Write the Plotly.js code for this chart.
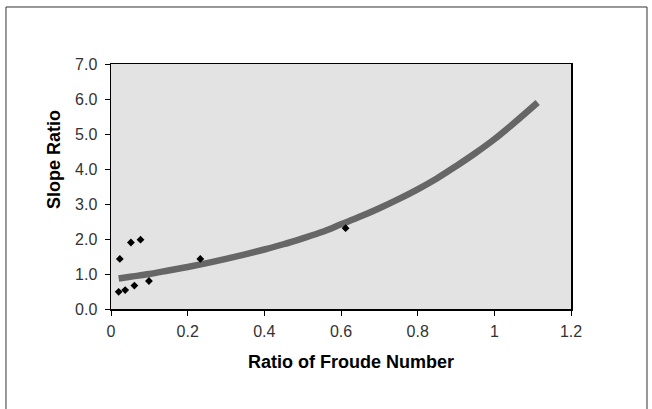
<!DOCTYPE html>
<html>
<head>
<meta charset="utf-8">
<script src="https://cdn.plot.ly/plotly-3.0.1.min.js"></script>
<style>html,body{margin:0;padding:0;background:#fff;}#chart{width:652px;height:409px;}</style>
</head>
<body>
<div id="chart"></div>
<script>
// Observed data points
var obsX = [0.023, 0.020, 0.037, 0.052, 0.061, 0.077, 0.099, 0.233, 0.612];
var obsY = [1.43, 0.49, 0.54, 1.90, 0.67, 1.98, 0.80, 1.43, 2.31];

// Fitted curve
var fitX = [0.02, 0.05, 0.1, 0.15, 0.2, 0.25, 0.3, 0.35, 0.4, 0.45, 0.5, 0.55,
            0.6, 0.65, 0.7, 0.75, 0.8, 0.85, 0.9, 0.95, 1.0, 1.05, 1.113];
var fitY = [0.87, 0.92, 1.0, 1.1, 1.2, 1.31, 1.43, 1.56, 1.70, 1.85, 2.02, 2.2,
            2.42, 2.64, 2.88, 3.14, 3.42, 3.73, 4.08, 4.45, 4.85, 5.3, 5.9];

var xTickVals = [0, 0.2, 0.4, 0.6, 0.8, 1, 1.2];
var xTickText = ['0', '0.2', '0.4', '0.6', '0.8', '1', '1.2'];
var yTickVals = [0, 1, 2, 3, 4, 5, 6, 7];
var yTickText = ['0.0', '1.0', '2.0', '3.0', '4.0', '5.0', '6.0', '7.0'];

var xTitle = 'Ratio of Froude Number';
var yTitle = 'Slope Ratio';

var traces = [
  {x: fitX, y: fitY, mode: 'lines', type: 'scatter',
   line: {color: '#666666', width: 6.5, shape: 'spline'}, hoverinfo: 'skip'},
  {x: obsX, y: obsY, mode: 'markers', type: 'scatter',
   marker: {symbol: 'diamond', size: 6, color: '#000000'}}
];

var titleFont = {family: 'Liberation Sans, Arial, sans-serif', size: 18, color: '#000', weight: 'bold'};
var tickFont = {family: 'Liberation Sans, Arial, sans-serif', size: 16, color: '#333'};

var layout = {
  width: 652, height: 409,
  margin: {l: 111, r: 81, t: 64, b: 100},
  paper_bgcolor: '#ffffff',
  plot_bgcolor: '#e3e3e3',
  showlegend: false,
  font: {family: 'Liberation Sans, Arial, sans-serif', color: '#222'},
  xaxis: {
    range: [0, 1.2], tickvals: xTickVals, ticktext: xTickText,
    showgrid: false, zeroline: false,
    showline: true, linecolor: '#000', linewidth: 1.5, mirror: true,
    ticks: 'outside', ticklen: 5, tickcolor: '#000',
    tickfont: tickFont, ticklabelstandoff: 2
  },
  yaxis: {
    range: [0, 7], tickvals: yTickVals, ticktext: yTickText,
    showgrid: false, zeroline: false,
    showline: true, linecolor: '#000', linewidth: 1.5, mirror: true,
    ticks: 'outside', ticklen: 5, tickcolor: '#000',
    tickfont: tickFont, ticklabelstandoff: 4
  },
  annotations: [
    {text: xTitle, xref: 'paper', yref: 'paper', x: 0.522, y: -0.216,
     xanchor: 'center', yanchor: 'middle', showarrow: false, font: titleFont},
    {text: yTitle, xref: 'paper', yref: 'paper', x: -0.124, y: 0.612, textangle: -90,
     xanchor: 'center', yanchor: 'middle', showarrow: false, font: titleFont}
  ],
  shapes: [{
    type: 'rect', xref: 'paper', yref: 'paper',
    x0: -0.2283, x1: 1.1652, y0: -0.45, y1: 1.2327,
    line: {color: '#333', width: 1}, fillcolor: 'rgba(0,0,0,0)', layer: 'below'
  }]
};

Plotly.newPlot('chart', traces, layout, {displayModeBar: false, staticPlot: true});
</script>
</body>
</html>
